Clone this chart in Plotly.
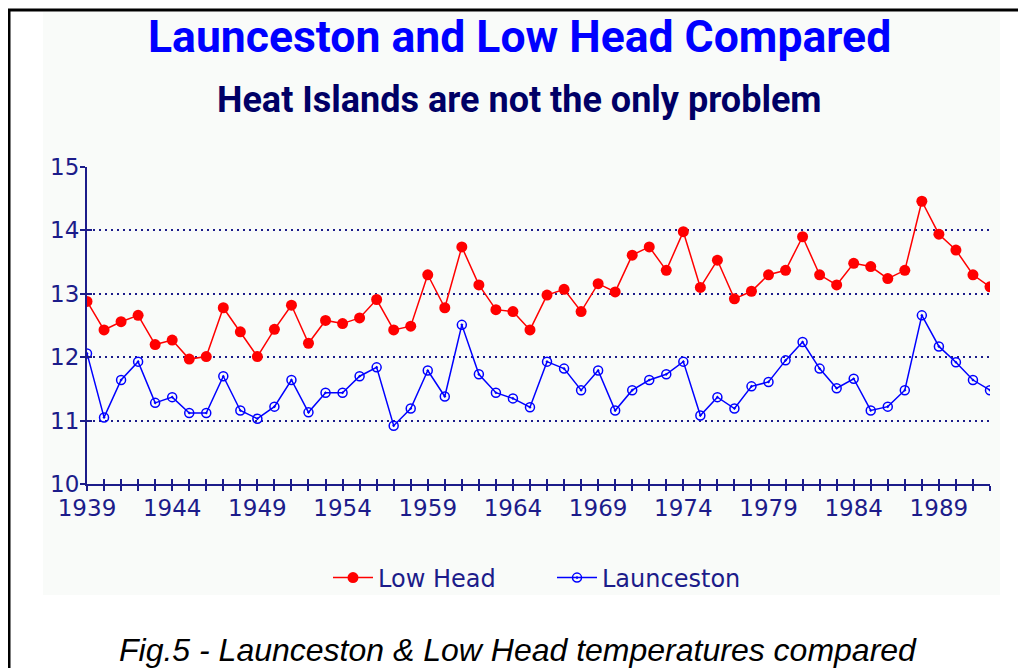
import plotly.graph_objects as go

years = list(range(1939, 1993))
low_head = [12.88, 12.43, 12.56, 12.66, 12.20, 12.27, 11.97, 12.01, 12.78, 12.40,
            12.01, 12.44, 12.82, 12.22, 12.58, 12.53, 12.62, 12.91, 12.43, 12.49,
            13.30, 12.78, 13.74, 13.14, 12.75, 12.72, 12.43, 12.98, 13.07, 12.72,
            13.16, 13.03, 13.61, 13.74, 13.37, 13.98, 13.10, 13.53, 12.92, 13.04,
            13.30, 13.37, 13.90, 13.30, 13.14, 13.48, 13.43, 13.24, 13.37, 14.46,
            13.94, 13.69, 13.30, 13.11]
launceston = [12.06, 11.05, 11.64, 11.93, 11.28, 11.37, 11.12, 11.12, 11.70, 11.16,
              11.03, 11.22, 11.64, 11.13, 11.44, 11.44, 11.70, 11.84, 10.92, 11.19,
              11.79, 11.38, 12.51, 11.73, 11.44, 11.35, 11.21, 11.93, 11.82, 11.48,
              11.79, 11.16, 11.48, 11.64, 11.73, 11.93, 11.08, 11.37, 11.19, 11.54,
              11.61, 11.95, 12.24, 11.82, 11.51, 11.66, 11.16, 11.22, 11.48, 12.66,
              12.17, 11.92, 11.64, 11.48]
y_ticks = [10, 11, 12, 13, 14, 15]
x_labels = [str(y) if (y - 1939) % 5 == 0 else "" for y in years]

title = "Launceston and Low Head Compared"
subtitle = "Heat Islands are not the only problem"
caption = "Fig.5 - Launceston & Low Head temperatures compared"

# page body has an 8px margin; figure is sized to fit the remaining window
OFF = 8
W, H = 1026 - OFF, 668 - OFF
NAVY = "#1c1c8a"

def px(x):
    return (x - OFF) / W

def py(y):
    return 1 - (y - OFF) / H

fig = go.Figure()
fig.add_trace(go.Scatter(
    x=years, y=low_head, name="Low Head", mode="lines+markers",
    line=dict(color="#ff0000", width=1.5),
    marker=dict(color="#ff0000", size=11, symbol="circle"),
))
fig.add_trace(go.Scatter(
    x=years, y=launceston, name="Launceston", mode="lines+markers",
    line=dict(color="#0000ff", width=1.5),
    marker=dict(color="#0000ff", size=9, symbol="circle-open-dot", line=dict(width=1.5)),
))
fig.add_trace(go.Scatter(x=[1939], y=[10], xaxis="x2", yaxis="y2", mode="markers",
                         marker=dict(opacity=0), showlegend=False, hoverinfo="skip"))

axis_font = dict(family="DejaVu Sans, sans-serif", size=23, color=NAVY)
xdom = [px(87), px(990)]
ydom = [py(484), py(167)]

fig.update_layout(
    width=W, height=H,
    margin=dict(l=0, r=0, t=0, b=0, autoexpand=False),
    paper_bgcolor="white",
    plot_bgcolor="rgba(0,0,0,0)",
    xaxis=dict(domain=xdom, range=[1939, 1992], tickmode="array", tickvals=years,
               ticktext=x_labels, ticks="outside", ticklen=5, tickwidth=2, tickcolor=NAVY,
               showline=True, linecolor=NAVY, linewidth=2, showgrid=False, zeroline=False,
               tickfont=axis_font, anchor="y", automargin=False, ticklabelstandoff=-3),
    yaxis=dict(domain=ydom, range=[10, 15], tickmode="array", tickvals=y_ticks,
               ticks="outside", ticklen=5, tickwidth=2, tickcolor=NAVY,
               showline=True, linecolor=NAVY, linewidth=2, showgrid=True,
               gridcolor=NAVY, gridwidth=2, griddash="2px,4px", zeroline=False,
               tickfont=axis_font, anchor="x", automargin=False, ticklabelstandoff=-4),
    xaxis2=dict(domain=xdom, range=[1939, 1992], overlaying="x", anchor="y2",
                tickmode="array", tickvals=years, ticks="inside", ticklen=5, tickwidth=2,
                tickcolor=NAVY, showticklabels=False, showgrid=False, zeroline=False,
                showline=False, side="bottom", automargin=False),
    yaxis2=dict(domain=ydom, range=[10, 15], overlaying="y", anchor="x2",
                tickmode="array", tickvals=y_ticks, ticks="inside", ticklen=5, tickwidth=2,
                tickcolor=NAVY, showticklabels=False, showgrid=False, zeroline=False,
                showline=False, side="left", automargin=False),
    legend=dict(orientation="h", x=px(328), xanchor="left", y=py(578), yanchor="middle",
                font=dict(family="DejaVu Sans, sans-serif", size=24, color=NAVY),
                bgcolor="rgba(0,0,0,0)", itemwidth=40, entrywidth=169),
    showlegend=True,
    shapes=[
        dict(type="rect", xref="paper", yref="paper", x0=px(43), x1=px(1000),
             y0=py(595), y1=py(12), fillcolor="#f9fbf9", line=dict(width=0), layer="below"),
        dict(type="line", xref="paper", yref="paper", x0=px(8), x1=1.0,
             y0=py(10), y1=py(10), line=dict(color="black", width=3)),
        dict(type="line", xref="paper", yref="paper", x0=px(9), x1=px(9),
             y0=py(10), y1=0, line=dict(color="black", width=3)),
    ],
    annotations=[
        dict(text=title, xref="paper", yref="paper", x=px(519), y=py(37),
             xanchor="center", yanchor="middle", showarrow=False,
             font=dict(family="Roboto, sans-serif", size=44.5, color="#0000ff", weight="bold")),
        dict(text=subtitle, xref="paper", yref="paper", x=px(519), y=py(100),
             xanchor="center", yanchor="middle", showarrow=False,
             font=dict(family="Roboto, sans-serif", size=36, color="#000066", weight="bold")),
        dict(text="<i>" + caption + "</i>", xref="paper", yref="paper", x=px(518), y=py(650),
             xanchor="center", yanchor="middle", showarrow=False,
             font=dict(family="Liberation Sans, Arial, sans-serif", size=32, color="black")),
    ],
)

fig.write_html("out.html")
